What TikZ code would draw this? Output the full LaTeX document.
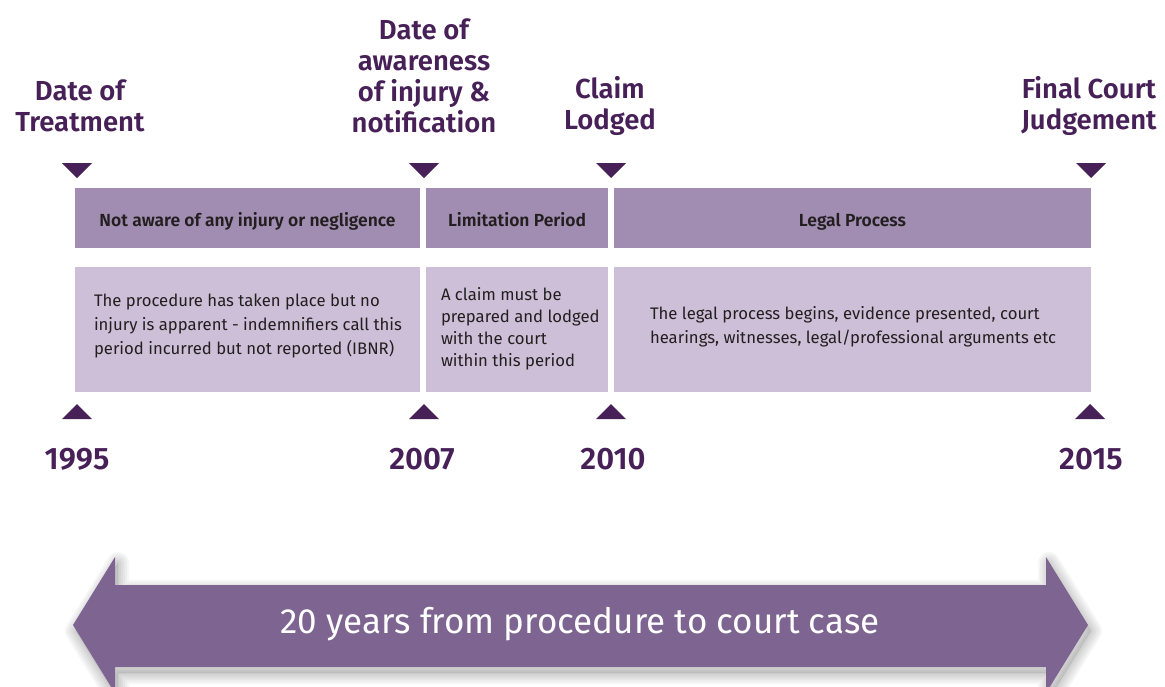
\documentclass[tikz,border=0pt]{standalone}
\usepackage{fontspec}
\setmainfont{Fira Sans}[BoldFont={Fira Sans SemiBold}]
\usetikzlibrary{calc}

\definecolor{plum}{HTML}{472057}
\definecolor{hdrbox}{HTML}{A18DB1}
\definecolor{bodybox}{HTML}{CCBFD7}
\definecolor{bandcol}{HTML}{7D6491}
\definecolor{ink}{HTML}{231F20}

\tikzset{
  heading/.style={text=plum, font=\fontsize{27.5}{31}\selectfont\bfseries, align=center, inner sep=0pt},
  yearlabel/.style={text=plum, font=\fontsize{31}{31}\selectfont\bfseries, inner sep=0pt},
  hdrcell/.style={fill=hdrbox, draw=none, minimum height=60pt, inner sep=0pt,
    text height=20pt, text depth=4pt,
    text=ink, font=\fontsize{17.5}{17.5}\selectfont\bfseries},
  bodycell/.style={fill=bodybox, draw=none, minimum height=125pt, inner sep=0pt},
  bodytext/.style={text=ink, font=\fontsize{16.7}{24}\selectfont, align=left, inner sep=0pt, anchor=west},
  bandtext/.style={text=white, font=\fontsize{35}{35}\selectfont, inner sep=0pt},
}

% downward marker hanging from a point, upward marker standing on a point
\newcommand{\downmark}[1]{\fill[plum] (#1) ++(-15,0) -- ++(30,0) -- ++(-15,15) -- cycle;}
\newcommand{\upmark}[1]{\fill[plum] (#1) ++(-15,0) -- ++(30,0) -- ++(-15,-15) -- cycle;}

\begin{document}
\begin{tikzpicture}[x=1pt,y=-1pt]
\useasboundingbox (0,0) rectangle (1165,686);

% milestone headings
\node[heading] (tTreat) at (80,106) {Date of\\Treatment};
\node[heading] (tAware) at (424,75.5) {Date of\\awareness\\of injury \&\\notification};
\node[heading] (tClaim) at (610,106) {Claim\\Lodged};
\node[heading] (tFinal) at (1089,106) {Final Court\\Judgement};

% markers above the period bar
\coordinate (d1) at (77,163);
\coordinate (d2) at (424,163);
\coordinate (d3) at (611,163);
\coordinate (d4) at (1091,163);
\downmark{d1}\downmark{d2}\downmark{d3}\downmark{d4}

% period headers
\node[hdrcell, minimum width=345pt] (h1) at (247.5,218) {Not aware of any injury or negligence};
\node[hdrcell, minimum width=182pt] (h2) at (517,218) {Limitation Period};
\node[hdrcell, minimum width=477pt] (h3) at (852.5,218) {Legal Process};

% period descriptions
\node[bodycell, minimum width=345pt] (b1) at (247.5,329.5) {};
\node[bodycell, minimum width=182pt] (b2) at (517,329.5) {};
\node[bodycell, minimum width=477pt] (b3) at (852.5,329.5) {};

\node[bodytext] (x1) at ($(b1.west)+(19,-3)$) {The procedure has taken place but no\\injury is apparent - indemnifiers call this\\period incurred but not reported (IBNR)};
\node[bodytext, font=\fontsize{16.7}{22}\selectfont] (x2) at ($(b2.west)+(15,-1)$) {A claim must be\\prepared and lodged\\with the court\\within this period};
\node[bodytext] (x3) at ($(b3.west)+(36,-3)$) {The legal process begins, evidence presented, court\\hearings, witnesses, legal/professional arguments etc};

% markers below the period bar
\coordinate (u1) at (77,419);
\coordinate (u2) at (424,419);
\coordinate (u3) at (611,419);
\coordinate (u4) at (1090,419);
\upmark{u1}\upmark{u2}\upmark{u3}\upmark{u4}

% years
\node[yearlabel] (y1) at (77,459) {1995};
\node[yearlabel] (y2) at (422,459) {2007};
\node[yearlabel] (y3) at (613,459) {2010};
\node[yearlabel] (y4) at (1091,459) {2015};

% span band: soft shadow, then the double arrow
\def\bandpath{(73,625) -- (115,557) -- (115,585) -- (1046,585) -- (1046,557) -- (1088,625) -- (1046,693) -- (1046,667) -- (115,667) -- (115,693) -- cycle}
\begin{scope}[shift={(3,6)}]
  \foreach \w in {22,18,14,10,6,2}
    \draw[black, opacity=0.035, line width=\w pt, line join=round] \bandpath;
  \fill[black, opacity=0.08] \bandpath;
\end{scope}
\fill[bandcol] \bandpath;
\node[bandtext] (band) at (580,624) {20 years from procedure to court case};

\end{tikzpicture}
\end{document}
